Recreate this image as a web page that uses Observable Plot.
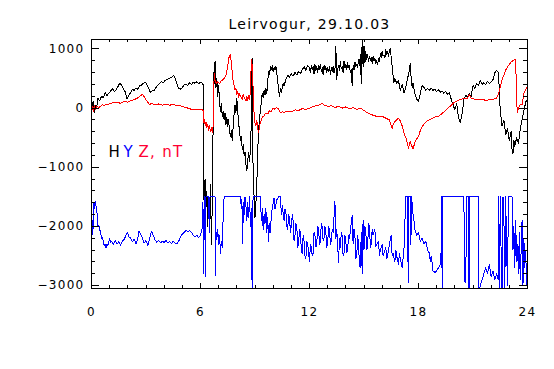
<!DOCTYPE html>
<html><head><meta charset="utf-8">
<script src="https://cdn.jsdelivr.net/npm/d3@7"></script>
<script src="https://cdn.jsdelivr.net/npm/@observablehq/plot@0.6"></script>
<style>
html,body{margin:0;padding:0;background:#fff;}
svg text{letter-spacing:1.3px}
</style></head><body><div id="chart"></div>
<script>
const title = "Leirvogur, 29.10.03";
const xTicks = [0,6,12,18,24];
const yTicks = [-3000,-2000,-1000,0,1000];
const legendH = "H", legendY = "Y", legendZ = "Z, nT";

// H component (black): [hour, nT]
const H = [[0.00,-20],[0.05,60],[0.10,120],[0.15,-70],[0.20,40],[0.28,-10],[0.35,170],[0.45,120],[0.55,200],[0.65,180],[0.75,260],[0.85,210],[0.95,250],[1.05,290],[1.15,330],[1.25,280],[1.35,310],[1.45,360],[1.55,420],[1.65,390],[1.75,330],[1.85,280],[1.95,160],[2.05,210],[2.15,260],[2.25,320],[2.35,300],[2.45,340],[2.55,320],[2.65,380],[2.75,390],[2.85,420],[2.95,440],[3.05,400],[3.15,330],[3.25,260],[3.35,300],[3.45,290],[3.55,350],[3.65,390],[3.75,420],[3.85,450],[3.95,430],[4.05,470],[4.15,480],[4.25,500],[4.35,510],[4.45,530],[4.52,550],[4.6,510],[4.7,420],[4.8,330],[4.9,320],[5.0,350],[5.1,390],[5.2,410],[5.3,380],[5.4,430],[5.5,400],[5.6,440],[5.7,420],[5.8,450],[5.9,410],[6.0,440],[6.1,420],[6.14,400],
[6.16,-1300],[6.2,-1600],[6.25,-1200],[6.3,-1700],[6.35,-1400],[6.4,-2000],[6.45,-1500],[6.5,-1900],[6.55,-1300],[6.6,-2300],[6.65,-1600],[6.68,-1400],[6.7,600],[6.75,420],[6.8,800],[6.85,350],[6.9,500],[6.95,200],[7.0,380],[7.05,100],[7.1,-50],[7.15,80],[7.2,-150],[7.25,-50],[7.3,-200],[7.35,-80],[7.4,-280],[7.45,-150],[7.5,-320],[7.55,-200],[7.6,-400],[7.65,-480],[7.7,-380],[7.75,-550],[7.8,-300],[7.85,-100],[7.9,50],[7.95,-80],[8.0,170],[8.05,-50],[8.1,-250],[8.15,-400],[8.2,-550],[8.25,-480],[8.3,-700],[8.35,-620],[8.4,-800],[8.45,-750],[8.5,-950],[8.55,-1060],[8.6,-880],[8.65,-750],[8.7,-900],[8.75,-700],[8.8,-200],[8.84,850],[8.87,-300],[8.9,-1200],[8.95,-1500],[9.0,-1850],[9.05,-1600],[9.1,-1300],[9.15,-700],[9.2,-400],[9.25,-150],[9.3,-50],[9.35,120],[9.4,250],[9.45,180],[9.5,300],[9.55,220],[9.6,330],[9.65,250],[9.7,450],[9.75,620],[9.8,560],[9.85,700],[9.9,650],[9.95,720],[10.0,610],[10.05,690],[10.1,640],[10.15,700],[10.2,600],[10.25,450],[10.3,300],[10.35,200],[10.4,330],[10.45,260],[10.5,350],[10.55,420],[10.6,380],[10.7,480],[10.8,560],[10.9,520],[11.0,580],[11.1,540],[11.2,600],[11.3,560],[11.4,620],[11.5,580],[11.6,650],[11.7,700],[11.8,640],[11.9,720],
[12.0,680],[12.05,600],[12.1,720],[12.15,650],[12.2,700],[12.25,580],[12.3,740],[12.35,640],[12.4,700],[12.45,600],[12.5,720],[12.55,660],[12.6,740],[12.65,620],[12.7,680],[12.75,560],[12.8,720],[12.85,640],[12.9,700],[12.95,600],[13.0,690],[13.05,620],[13.1,700],[13.15,560],[13.2,680],[13.25,620],[13.3,700],[13.35,600],[13.4,640],[13.45,1050],[13.5,480],[13.55,660],[13.6,720],[13.65,640],[13.7,780],[13.75,660],[13.8,700],[13.85,600],[13.9,800],[13.95,680],[14.0,740],[14.05,650],[14.1,770],[14.15,680],[14.2,720],[14.25,600],[14.3,650],[14.35,380],[14.4,720],[14.45,650],[14.5,780],[14.55,700],[14.6,740],[14.65,680],[14.7,820],[14.75,720],[14.8,900],[14.85,420],[14.9,1160],[14.95,700],[15.0,1050],[15.05,760],[15.1,950],[15.15,820],[15.2,900],[15.25,780],[15.3,880],[15.35,800],[15.4,860],[15.45,760],[15.5,880],[15.55,800],[15.6,840],[15.65,760],[15.7,800],[15.75,740],[15.8,840],[15.85,780],[15.9,920],[15.95,860],[16.0,960],[16.05,880],[16.1,900],[16.15,850],[16.2,990],[16.25,900],[16.3,950],[16.35,880],[16.4,980],[16.45,1000],[16.5,850],
[16.55,700],[16.6,550],[16.65,430],[16.7,500],[16.8,420],[16.9,460],[17.0,300],[17.1,400],[17.2,260],[17.3,350],[17.4,500],[17.5,650],[17.55,760],[17.6,480],[17.65,350],[17.7,420],[17.8,250],[17.9,150],[18.0,120],[18.1,250],[18.2,380],[18.3,350],[18.4,300],[18.5,330],[18.6,300],[18.7,340],[18.8,300],[18.9,320],[19.0,280],[19.1,310],[19.2,270],[19.3,290],[19.4,250],[19.5,280],[19.6,230],[19.7,260],[19.8,150],[19.9,60],[20.0,-30],[20.1,80],[20.2,-150],[20.3,-250],[20.4,-100],[20.5,150],[20.6,220],[20.7,180],[20.8,240],[20.9,200],[21.0,380],[21.1,330],[21.2,420],[21.3,380],[21.4,460],[21.5,400],[21.6,430],[21.7,400],[21.8,450],[21.9,420],[22.0,440],[22.1,480],[22.2,600],[22.3,640],[22.4,600],[22.45,300],[22.5,-50],[22.6,-300],[22.7,-200],[22.8,-450],[22.9,-350],[23.0,-550],[23.1,-400],[23.15,-700],[23.2,-770],[23.25,-550],[23.3,-650],[23.4,-500],[23.5,-600],[23.6,-350],[23.7,-200],[23.8,-50],[23.9,100],[24.0,150]];

// Y component (blue)
const Y = [[0.0,-1700],[0.02,-2200],[0.05,-1900],[0.08,-2150],[0.1,-1600],[0.15,-1700],[0.2,-1580],[0.25,-1650],[0.3,-1750],[0.35,-2000],[0.4,-1980],[0.45,-2050],[0.5,-2100],[0.55,-2200],[0.6,-2180],[0.65,-2250],[0.7,-2330],[0.75,-2300],[0.8,-2360],[0.85,-2300],[0.9,-2330],[1.0,-2200],[1.05,-2280],[1.1,-2250],[1.2,-2300],[1.3,-2240],[1.4,-2300],[1.5,-2260],[1.6,-2320],[1.7,-2250],[1.8,-2220],[1.9,-2150],[1.97,-2100],[2.05,-2170],[2.15,-2200],[2.25,-2260],[2.35,-2220],[2.45,-2290],[2.55,-2200],[2.6,-2080],[2.7,-2120],[2.8,-2200],[2.9,-2280],[3.0,-2240],[3.1,-2320],[3.2,-2200],[3.3,-2080],[3.4,-2150],[3.5,-2230],[3.6,-2270],[3.7,-2240],[3.8,-2280],[3.9,-2250],[4.0,-2270],[4.1,-2240],[4.2,-2280],[4.3,-2260],[4.4,-2290],[4.5,-2250],[4.6,-2280],[4.7,-2300],[4.8,-2250],[4.9,-2180],[5.0,-2130],[5.1,-2100],[5.2,-2070],[5.3,-2090],[5.4,-2070],[5.5,-2100],[5.6,-2150],[5.7,-2180],[5.8,-2150],[5.9,-2190],[6.0,-2150],[6.05,-2080],[6.1,-2030],
[6.13,-1600],[6.16,-2800],[6.2,-1500],[6.24,-2000],[6.27,-2850],[6.3,-1500],[6.45,-1500],[6.48,-2100],[6.52,-1500],[6.8,-1500],[6.83,-2830],[6.86,-2100],[6.9,-2200],[6.95,-2050],[7.0,-2300],[7.05,-2150],[7.1,-2460],[7.15,-2250],[7.2,-2350],[7.25,-1800],[7.3,-1500],
[8.2,-1500],[8.25,-1700],[8.28,-1550],[8.32,-2290],[8.36,-1600],[8.4,-1800],[8.45,-1500],[8.5,-1650],[8.55,-1900],[8.6,-1600],[8.65,-1850],[8.7,-1500],[8.75,-2000],[8.8,-1700],[8.84,-3050],[8.86,-1700],[8.9,-1500],[9.3,-1500],[9.35,-1900],[9.4,-1700],[9.45,-2050],[9.5,-1800],[9.55,-1950],[9.6,-1700],[9.65,-2100],[9.7,-1850],[9.75,-2250],[9.8,-1950],[9.85,-2100],[9.9,-1800],[10.0,-1600],[10.05,-1520],[10.1,-1700],[10.2,-1550],[10.3,-1500],[10.4,-1500],[10.45,-1800],[10.5,-1650],[10.6,-1900],[10.65,-1700],[10.7,-1750],[10.75,-2000],[10.8,-2050],[10.85,-1800],[10.9,-1850],[10.95,-2100],[11.0,-2000],[11.05,-1800],[11.1,-1900],[11.15,-2250],[11.2,-2150],[11.25,-1950],[11.3,-2000],[11.35,-2350],[11.4,-2300],[11.45,-2050],[11.5,-2100],[11.55,-2400],[11.6,-2460],[11.65,-2150],[11.7,-2250],[11.75,-2500],[11.8,-2550],[11.85,-2250],[11.9,-2300],[11.95,-2450],[12.0,-2600],[12.05,-2300],[12.1,-2350],[12.15,-2500],[12.2,-2450],[12.25,-2100],[12.3,-2150],[12.35,-2350],[12.4,-2300],[12.45,-2000],[12.5,-2050],[12.55,-2300],[12.6,-2250],[12.65,-1950],[12.7,-2000],[12.75,-2250],[12.8,-2200],[12.85,-2000],[12.9,-2100],[12.95,-2350],[13.0,-2300],[13.05,-2000],[13.1,-2050],[13.15,-2300],[13.2,-2250],[13.25,-2050],[13.3,-2100],[13.4,-1570],[13.45,-2200],[13.5,-2050],[13.6,-2610],[13.65,-2200],[13.7,-2350],[13.75,-2100],[13.8,-2150],[13.85,-2500],[13.9,-2450],[13.95,-2150],[14.0,-2250],[14.05,-2450],[14.1,-2400],[14.15,-2150],[14.2,-2200],[14.35,-1820],[14.4,-2300],[14.45,-2050],[14.5,-2150],[14.55,-2550],[14.6,-2500],[14.65,-2150],[14.7,-2300],[14.75,-2650],[14.8,-2700],[14.85,-2100],[14.9,-2800],[14.95,-1900],[15.0,-2400],[15.05,-2000],[15.1,-2100],[15.15,-2400],[15.2,-2350],[15.25,-1950],[15.3,-2000],[15.35,-2350],[15.4,-2300],[15.45,-2050],[15.5,-2150],[15.6,-2050],[15.65,-2350],[15.7,-2300],[15.8,-2250],[15.85,-2500],[15.9,-2400],[16.0,-2300],[16.05,-2500],[16.1,-2450],[16.2,-2350],[16.25,-2550],[16.3,-2500],[16.4,-2300],[16.5,-2150],[16.55,-2500],[16.6,-2450],[16.7,-2600],[16.75,-2400],[16.8,-2500],[16.9,-2650],[16.95,-2450],[17.0,-2550],[17.1,-2700],[17.2,-2400],[17.3,-1500],[17.4,-1500],[17.43,-2950],[17.46,-1500],[17.55,-1500],[17.58,-2300],[17.62,-1500],[17.68,-1750],[17.75,-1900],[17.8,-2050],[17.9,-2150],[18.0,-2100],[18.1,-2250],[18.2,-2200],[18.3,-2300],[18.4,-2250],[18.5,-2400],[18.6,-2450],[18.65,-2600],[18.7,-2500],[18.8,-2750],[18.9,-2780],[19.0,-2750],[19.1,-2700],[19.2,-2650],[19.22,-2450],[19.25,-2700],[19.28,-1500],[19.31,-3100],[19.34,-1500],[20.5,-1500],[20.53,-2900],[20.57,-2950],[20.6,-2850],[20.63,-2200],[20.66,-1500],[20.75,-1500],[20.78,-3100],[20.81,-1500],[21.3,-1500],[21.33,-3100],[21.4,-3000],[21.5,-2900],[21.6,-2800],[21.7,-2700],[21.8,-2800],[21.9,-2650],[22.0,-2850],[22.1,-2750],[22.2,-2900],[22.3,-2800],[22.38,-2900],[22.42,-1500],[22.46,-3100],[22.5,-1500],[22.55,-2500],[22.6,-3100],[22.65,-1500],[22.7,-1800],[22.75,-3100],[22.8,-1500],[22.85,-2400],[22.9,-3000],[22.95,-1500],[23.15,-1500],[23.2,-2400],[23.25,-2000],[23.3,-2700],[23.35,-1900],[23.4,-2600],[23.45,-2300],[23.5,-2800],[23.55,-2100],[23.6,-2900],[23.65,-2400],[23.7,-1900],[23.75,-3000],[23.8,-2200],[23.85,-2700],[23.9,-2400],[23.95,-3000],[24.0,-2800]];

// Z component (red)
const Z = [[0.0,-80],[0.05,20],[0.1,-60],[0.15,50],[0.2,-30],[0.3,40],[0.4,10],[0.5,30],[0.6,60],[0.7,40],[0.8,70],[0.9,60],[1.0,80],[1.2,90],[1.4,100],[1.6,80],[1.8,110],[2.0,100],[2.2,130],[2.4,150],[2.6,180],[2.7,210],[2.8,230],[2.9,190],[3.0,140],[3.1,100],[3.2,60],[3.3,80],[3.5,60],[3.7,70],[3.9,50],[4.1,60],[4.3,50],[4.5,60],[4.7,40],[4.9,40],[5.1,20],[5.3,0],[5.5,-20],[5.7,-20],[5.9,-30],[6.1,-30],[6.15,-40],
[6.18,-250],[6.22,-200],[6.26,-300],[6.3,-230],[6.35,-330],[6.4,-270],[6.45,-380],[6.5,-300],[6.55,-400],[6.6,-330],[6.65,-420],[6.7,-300],[6.72,300],[6.76,580],[6.8,480],[6.85,430],[6.9,420],[6.95,450],[7.0,430],[7.05,410],[7.1,450],[7.2,470],[7.3,500],[7.4,560],[7.5,700],[7.55,840],[7.6,880],[7.65,900],[7.7,760],[7.75,600],[7.8,450],[7.85,380],[7.9,300],[7.95,330],[8.0,220],[8.05,280],[8.1,180],[8.15,250],[8.2,200],[8.3,150],[8.35,230],[8.4,180],[8.5,120],[8.55,200],[8.6,130],[8.65,220],[8.7,150],[8.75,300],[8.8,830],[8.85,700],[8.9,300],[8.95,-100],[9.0,-250],[9.05,-300],[9.1,-200],[9.15,-350],[9.2,-420],[9.25,-300],[9.3,-250],[9.35,-200],[9.4,-150],[9.5,-130],[9.6,-80],[9.7,-100],[9.8,-40],[9.9,-60],[10.0,0],[10.1,-20],[10.2,10],[10.3,-20],[10.4,-80],[10.5,-60],[10.6,-70],[10.8,-50],[11.0,-60],[11.2,-30],[11.4,-40],[11.6,-10],[11.8,-20],[12.0,0],[12.2,30],[12.4,40],[12.6,60],[12.7,80],[12.8,50],[13.0,30],[13.2,40],[13.4,10],[13.6,30],[13.8,0],[14.0,20],[14.2,-10],[14.4,10],[14.6,-20],[14.8,0],[15.0,-40],[15.2,-80],[15.4,-110],[15.6,-130],[15.8,-150],[16.0,-140],[16.2,-170],[16.4,-200],[16.5,-300],[16.55,-350],[16.6,-280],[16.7,-230],[16.8,-200],[16.9,-170],[17.0,-220],[17.1,-300],[17.2,-420],[17.3,-500],[17.4,-600],[17.45,-690],[17.5,-600],[17.55,-560],[17.6,-620],[17.7,-690],[17.8,-580],[17.9,-520],[18.0,-480],[18.1,-380],[18.2,-320],[18.3,-270],[18.4,-240],[18.5,-210],[18.7,-180],[18.9,-150],[19.1,-140],[19.3,-90],[19.5,-40],[19.7,20],[19.9,80],[20.1,120],[20.3,150],[20.5,160],[20.7,170],[20.8,230],[20.9,170],[21.1,150],[21.3,140],[21.5,150],[21.7,130],[21.9,140],[22.1,150],[22.3,170],[22.4,230],[22.5,350],[22.6,480],[22.7,560],[22.8,640],[22.9,700],[23.0,740],[23.1,780],[23.2,800],[23.3,830],[23.35,820],[23.4,100],[23.45,-80],[23.5,0],[23.6,60],[23.7,50],[23.8,250],[23.9,320],[24.0,360]];

const W = 554, HT = 369, mL = 91, mR = 27, mT = 39, mB = 81;
const FW = W - mL - mR, FH = HT - mT - mB;
const xMinor = d3.range(0, 25).filter(h => !xTicks.includes(h));
const yMinor = d3.range(-3000, 1001, 200).filter(v => !yTicks.includes(v));
const lineOpts = (stroke) => ({x: d => d[0], y: d => d[1], stroke, strokeWidth: 1, clip: true});
const fmtY = d => d < 0 ? "\u2212" + Math.abs(d) : String(d);

const chart = Plot.plot({
  width: W, height: HT,
  marginLeft: mL, marginRight: mR, marginTop: mT, marginBottom: mB,
  style: {fontFamily: "DejaVu Sans", fontSize: "12px", background: "#fff", color: "#000", shapeRendering: "crispEdges"},
  x: {domain: [0, 24]},
  y: {domain: [-3050, 1160]},
  marks: [
    Plot.line(H, lineOpts("#000000")),
    Plot.line(Y, lineOpts("#0000ff")),
    Plot.line(Z, lineOpts("#ff0000")),
    Plot.tickX(xTicks, {x: d => d, insetTop: FH - 5, stroke: "black"}),
    Plot.tickX(xTicks, {x: d => d, insetBottom: FH - 5, stroke: "black"}),
    Plot.tickX(xMinor, {x: d => d, insetTop: FH - 3, stroke: "black"}),
    Plot.tickX(xMinor, {x: d => d, insetBottom: FH - 3, stroke: "black"}),
    Plot.tickY(yTicks, {y: d => d, insetRight: FW - 8, stroke: "black"}),
    Plot.tickY(yTicks, {y: d => d, insetLeft: FW - 8, stroke: "black"}),
    Plot.tickY(yMinor, {y: d => d, insetRight: FW - 4, stroke: "black"}),
    Plot.tickY(yMinor, {y: d => d, insetLeft: FW - 4, stroke: "black"}),
    Plot.frame({stroke: "black"}),
    Plot.axisX({ticks: xTicks, tickSize: 0, tickPadding: 19, label: null, tickFormat: d => String(d)}),
    Plot.axisY({ticks: yTicks, tickSize: 0, tickPadding: 7, label: null, tickFormat: fmtY}),
    Plot.text([title], {frameAnchor: "top", dy: -20, fontSize: 14}),
    Plot.text([legendH], {frameAnchor: "top-left", textAnchor: "start", dx: 17, dy: 107, fontSize: 15, fill: "#000000"}),
    Plot.text([legendY], {frameAnchor: "top-left", textAnchor: "start", dx: 32, dy: 107, fontSize: 15, fill: "#0000ff"}),
    Plot.text([legendZ], {frameAnchor: "top-left", textAnchor: "start", dx: 47, dy: 107, fontSize: 15, fill: "#ff0033"})
  ]
});
document.getElementById("chart").appendChild(chart);
</script></body></html>
